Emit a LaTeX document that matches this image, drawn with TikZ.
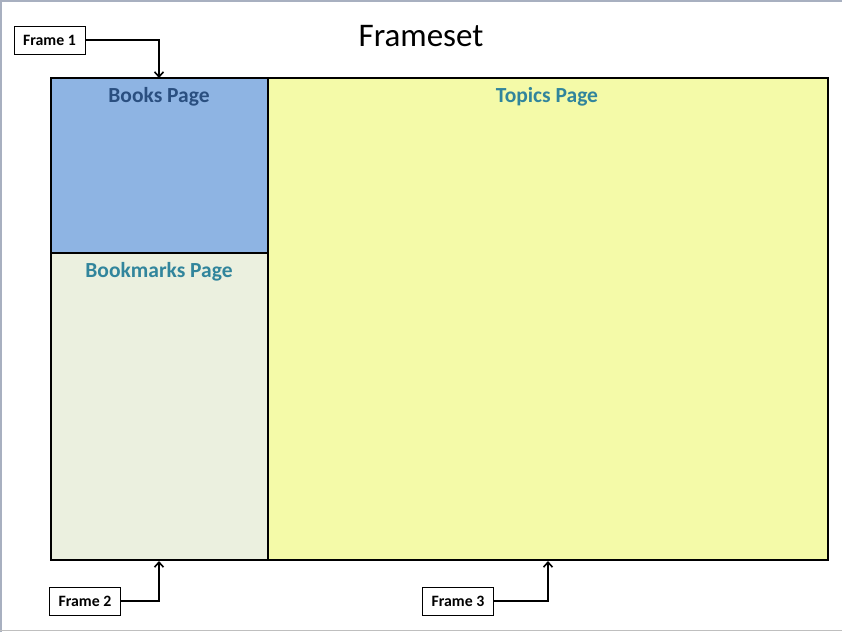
\documentclass[tikz,border=0pt]{standalone}
\usepackage{fontspec}
\setmainfont{Carlito}
\usetikzlibrary{arrows.meta}
\definecolor{booksfill}{HTML}{8EB4E3}
\definecolor{marksfill}{HTML}{EBF0DF}
\definecolor{topicsfill}{HTML}{F4FAA8}
\definecolor{darkblue}{HTML}{2A4F80}
\definecolor{teal}{HTML}{31859C}
\definecolor{edgegray}{HTML}{A8B0C0}
\tikzset{
  pane/.style={draw=black, line width=2pt},
  panetitle/.style={font=\bfseries\fontsize{21.5}{25}\selectfont, anchor=center},
  framelabel/.style={draw=black, fill=white, line width=0.8pt, minimum width=71pt, minimum height=28pt, inner sep=0pt, font=\bfseries\fontsize{15.8}{18}\selectfont},
  pointer/.style={draw=black, line width=1.6pt, -{Straight Barb[length=5pt, width=9pt, line width=1.6pt]}},
}
\begin{document}
\begin{tikzpicture}[x=1pt, y=-1pt]
  \useasboundingbox (0,0) rectangle (842,632);
  \fill[white] (0,0) rectangle (842,632);
  % page edges
  \draw[edgegray, line width=1.5pt] (0.75,632) -- (0.75,0.75) -- (842,0.75);
  \draw[gray!50, line width=1pt] (0,630.5) -- (842,630.5);

  % title
  \node[font=\fontsize{33}{38}\selectfont] (title) at (421,36) {Frameset};

  % the three panes
  \path[fill=booksfill] (51,78) rectangle (268,253);
  \path[fill=marksfill] (51,253) rectangle (268,560);
  \path[fill=topicsfill] (268,78) rectangle (828,560);
  \coordinate (booksTop) at (159,78);
  \coordinate (marksBottom) at (159,561);
  \coordinate (topicsBottom) at (548,561);
  \draw[pane] (51,78) rectangle (828,560);
  \draw[pane] (268,78) -- (268,560);
  \draw[pane] (51,253) -- (268,253);

  \node[panetitle, text=darkblue] (books) at (159,96.5) {Books Page};
  \node[panetitle, text=teal] (marks) at (159,271.5) {Bookmarks Page};
  \node[panetitle, text=teal] (topics) at (547,96.5) {Topics Page};

  % frame labels with pointers
  \node[framelabel] (f1) at (49.5,40) {Frame 1};
  \node[framelabel] (f2) at (85,601) {Frame 2};
  \node[framelabel] (f3) at (458,601) {Frame 3};

  \draw[pointer] (f1.east) -| (booksTop);
  \draw[pointer] (f2.east) -| (marksBottom);
  \draw[pointer] (f3.east) -| (topicsBottom);
\end{tikzpicture}
\end{document}
